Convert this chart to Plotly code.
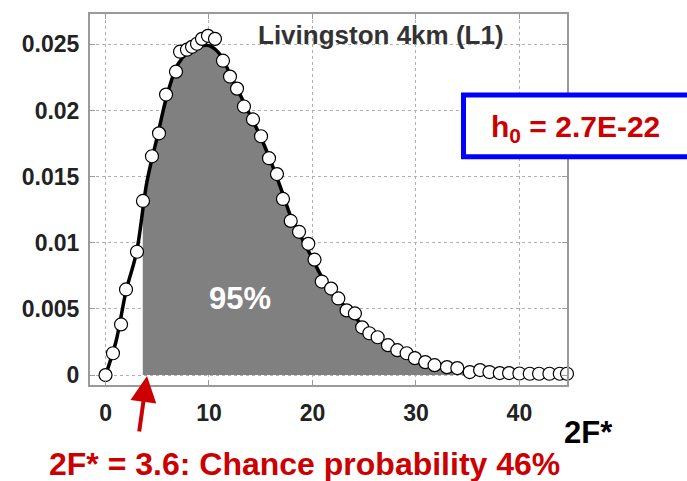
import numpy as np
import plotly.graph_objects as go

# Simulated detection statistic 2F* (open circles)
sim_x = [0.0, 0.72, 1.5, 1.98, 3.04, 3.62, 4.49, 5.17, 5.85, 6.81, 7.2, 7.87, 8.36, 8.84,
         9.32, 9.9, 10.58, 11.35, 12.03, 12.71, 13.38, 14.25, 15.03, 15.8, 16.57, 17.15,
         17.9, 18.7, 19.6, 20.2, 20.9, 21.8, 22.5, 23.3, 24.1, 24.8, 25.5, 26.3, 27.3,
         28.2, 29.1, 29.9, 30.9, 31.8, 33.0, 34.0, 35.2, 36.2, 37.1, 38.1, 39.0, 40.0,
         41.0, 41.9, 42.9, 43.9, 44.6]
sim_y = [0.0, 0.00165, 0.00383, 0.00647, 0.00932, 0.01316, 0.01654, 0.01827, 0.0212,
         0.02293, 0.02444, 0.02459, 0.02481, 0.02504, 0.02541, 0.02564, 0.02541, 0.02376,
         0.02256, 0.02165, 0.0203, 0.01932, 0.01805, 0.01639, 0.01519, 0.01331, 0.01165,
         0.01083, 0.00992, 0.00872, 0.00707, 0.00654, 0.00579, 0.00489, 0.00466, 0.00361,
         0.00316, 0.00286, 0.00226, 0.00188, 0.00165, 0.00128, 0.00098, 0.00075, 0.0006,
         0.00053, 0.00023, 0.00038, 0.00023, 0.00015, 0.00015, 0.00012, 0.0001, 0.0001,
         0.0001, 0.0001, 0.0001]

# Expected distribution (solid curve)
pdf_x = [0, 1, 2, 3, 4, 5, 6, 7, 8, 9, 10, 11, 12, 13, 14, 15, 16, 17, 18, 19, 20, 21,
         22, 23, 24, 25, 26, 28, 30, 32, 34, 36, 38, 40, 42, 44.6]
pdf_y = [0.0, 0.0025, 0.0064, 0.0093, 0.0146, 0.018, 0.0213, 0.0235, 0.0244, 0.0248,
         0.0249, 0.0243, 0.0228, 0.0212, 0.0196, 0.018, 0.0161, 0.014, 0.0118, 0.0103,
         0.0088, 0.0073, 0.0063, 0.0053, 0.0045, 0.0036, 0.003, 0.002, 0.0012, 0.0008,
         0.0005, 0.0003, 0.0002, 0.00015, 0.0001, 0.0001]

threshold = 3.6
x_ticks = [0, 10, 20, 30, 40]
y_ticks = [0, 0.005, 0.01, 0.015, 0.02, 0.025]
y_tick_text = ["0", "0.005", "0.01", "0.015", "0.02", "0.025"]

RED = "#cc0000"
W, H = 687, 481
ML, MR, MT, MB = 90, 120, 12, 96
PW, PH = W - ML - MR, H - MT - MB


def px(x):
    return (x - ML) / PW


def py(y):
    return (H - MB - y) / PH


# Shaded region above the threshold
px_arr = np.array(pdf_x, dtype=float)
py_arr = np.array(pdf_y, dtype=float)
mask = px_arr > threshold
fill_x = np.concatenate([[threshold], px_arr[mask]])
fill_y = np.concatenate([[np.interp(threshold, px_arr, py_arr)], py_arr[mask]])

fig = go.Figure()
fig.add_trace(go.Scatter(x=fill_x, y=fill_y, mode="lines", line=dict(width=0),
                         fill="tozeroy", fillcolor="#808080", hoverinfo="skip"))
fig.add_trace(go.Scatter(x=pdf_x, y=pdf_y, mode="lines", line=dict(color="black", width=3.5, shape="spline")))
fig.add_trace(go.Scatter(x=sim_x, y=sim_y, mode="markers", cliponaxis=False,
                         marker=dict(symbol="circle", size=13, color="white",
                                     line=dict(color="black", width=1.2))))

axis_common = dict(showline=True, mirror="ticks", linecolor="#9a9a9a", linewidth=2,
                   ticks="inside", ticklen=5, tickcolor="#9a9a9a",
                   showgrid=True, gridcolor="#b0b0b0", griddash="dot", gridwidth=1,
                   zeroline=False,
                   tickfont=dict(family="Arial", size=23, color="#222222", weight="bold"))

fig.update_xaxes(range=[-1.5, 44.6], tickvals=x_ticks, ticklabelstandoff=6, **axis_common)
fig.update_yaxes(range=[-0.00075, 0.02729], tickvals=y_ticks, ticktext=y_tick_text,
                 ticklabelstandoff=4, **axis_common)

# Blue framed box for the amplitude
fig.add_shape(type="rect", xref="paper", yref="paper",
              x0=px(463.5), x1=px(700), y0=py(155.5), y1=py(93.5),
              line=dict(color="#0000ff", width=5), fillcolor="white", layer="above")

annotations = [
    dict(text="Livingston 4km (L1)", x=px(381), y=py(33), yanchor="middle",
         font=dict(size=26, color="#333333")),
    dict(text="h<sub>0</sub> = 2.7E-22", x=px(575), y=py(127), yanchor="middle",
         font=dict(size=30, color=RED)),
    dict(text="95%", x=px(240), y=py(298), yanchor="middle",
         font=dict(size=31, color="white")),
    dict(text="2F*", x=px(588), y=py(433), yanchor="middle",
         font=dict(size=31, color="black")),
    dict(text="2F* = 3.6: Chance probability 46%", x=px(304), y=py(484), yanchor="bottom",
         font=dict(size=32, color=RED)),
]
for a in annotations:
    a["font"].update(family="Arial", weight="bold")
    fig.add_annotation(xref="paper", yref="paper", showarrow=False, borderpad=0,
                       xanchor="center", **a)

# Arrow pointing at the threshold
fig.add_annotation(xref="paper", yref="paper", x=px(147), y=py(376), text="",
                   showarrow=True, arrowhead=2, arrowsize=1.3, arrowwidth=4,
                   arrowcolor=RED, axref="pixel", ayref="pixel", ax=-8, ay=57)

fig.update_layout(width=W, height=H, margin=dict(l=ML, r=MR, t=MT, b=MB),
                  paper_bgcolor="white", plot_bgcolor="white", showlegend=False)

fig.write_html("out.html")
